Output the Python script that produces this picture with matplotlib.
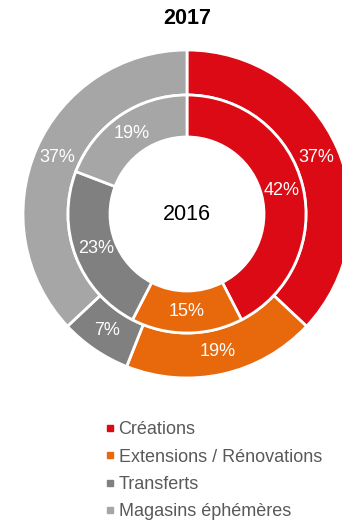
import matplotlib
matplotlib.use('Agg')
import matplotlib.pyplot as plt
from matplotlib.lines import Line2D

plt.rcParams['font.family'] = ['Liberation Sans', 'DejaVu Sans']

categories = ['Créations', 'Extensions / Rénovations', 'Transferts', 'Magasins éphémères']
values_2017 = [37, 19, 7, 37]
values_2016 = [42, 15, 23, 19]
colors = ['#DC0A15', '#E8680C', '#808080', '#A6A6A6']

W, H = 342, 520
fig = plt.figure(figsize=(W / 100, H / 100), dpi=100)

# ring geometry in pixels
cx, cy = 187, 214
r_out = 164
lim = 1.25
size = 2 * lim * r_out
ax = fig.add_axes([(cx - size / 2) / W, (H - cy - size / 2) / H, size / W, size / H])

wedge = dict(edgecolor='white', linewidth=2)
txt = dict(color='white', fontsize=13)

ax.pie(values_2017, colors=colors, radius=1.0, startangle=90, counterclock=False,
       wedgeprops=dict(width=45 / r_out, **wedge),
       autopct=lambda p: f'{p:.0f}%', pctdistance=0.862, textprops=txt)
ax.pie(values_2016, colors=colors, radius=119 / r_out, startangle=90, counterclock=False,
       wedgeprops=dict(width=42 / r_out, **wedge),
       autopct=lambda p: f'{p:.0f}%', pctdistance=0.82, textprops=txt)

ax.text(0, 0, '2016', ha='center', va='center', fontsize=15.5, color='black')
ax.set_xlim(-lim, lim)
ax.set_ylim(-lim, lim)
ax.axis('off')

fig.text(cx / W, 1 - 19 / H, '2017', ha='center', va='center',
         fontsize=15.5, fontweight='bold')

handles = [Line2D([], [], marker='s', linestyle='none', markersize=4.5,
                  markerfacecolor=c, markeredgecolor=c) for c in colors]
fig.legend(handles, categories, loc='upper left',
           bbox_to_anchor=(96 / W, 1 - 412 / H), frameon=False,
           fontsize=13, labelcolor='#595959', handlelength=0.5,
           handletextpad=0.25, labelspacing=0.58, borderpad=0)

fig.savefig('out.png', dpi=100)
